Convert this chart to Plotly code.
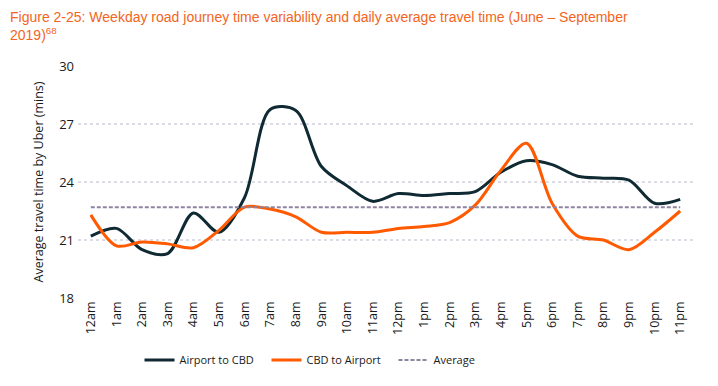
import plotly.graph_objects as go

hours = ["12am", "1am", "2am", "3am", "4am", "5am", "6am", "7am", "8am", "9am", "10am", "11am",
         "12pm", "1pm", "2pm", "3pm", "4pm", "5pm", "6pm", "7pm", "8pm", "9pm", "10pm", "11pm"]
airport_to_cbd = [21.2, 21.6, 20.5, 20.3, 22.4, 21.4, 23.2, 27.75, 27.7, 24.8, 23.8, 23.0,
                  23.4, 23.3, 23.4, 23.5, 24.5, 25.1, 24.9, 24.3, 24.2, 24.1, 22.9, 23.1]
cbd_to_airport = [22.3, 20.7, 20.9, 20.8, 20.6, 21.5, 22.7, 22.6, 22.2, 21.4, 21.4, 21.4,
                  21.6, 21.7, 21.9, 22.8, 24.6, 26.0, 22.9, 21.2, 21.0, 20.5, 21.4, 22.5]
average_value = 22.7
average = [average_value] * len(hours)
y_ticks = [18, 21, 24, 27, 30]

x = list(range(len(hours)))
font_family = "Open Sans, sans-serif"

fig = go.Figure()
fig.add_trace(go.Scatter(x=x, y=airport_to_cbd, name="Airport to CBD", mode="lines",
                         line=dict(color="#0f2a33", width=3, shape="spline", smoothing=0.9)))
fig.add_trace(go.Scatter(x=x, y=cbd_to_airport, name="CBD to Airport", mode="lines",
                         line=dict(color="#ff5a00", width=3, shape="spline", smoothing=0.9)))
fig.add_trace(go.Scatter(x=x, y=average, name="Average", mode="lines",
                         line=dict(color="#8e84a0", width=2, dash="4px,2px")))

fig.add_annotation(
    text="Figure 2-25: Weekday road journey time variability and daily average travel time (June – September<br>2019)<sup>68</sup>",
    xref="paper", yref="paper", x=-70 / 615, y=1 + 59 / 232, xanchor="left", yanchor="top",
    align="left", showarrow=False,
    font=dict(family="Liberation Sans, Arial, sans-serif", size=14, color="#f26522"),
)

fig.update_layout(
    width=718, height=386,
    margin=dict(l=70, r=33, t=58, b=96, autoexpand=False),
    paper_bgcolor="white", plot_bgcolor="white",
    font=dict(family=font_family, size=12, color="#1a1a1a"),
    xaxis=dict(
        tickmode="array", tickvals=x, ticktext=hours, tickangle=-90,
        range=[-0.5, 23.5], showgrid=False, zeroline=False, showline=False,
        tickfont=dict(size=12.5, color="#1a1a1a"), ticks="", automargin=False,
    ),
    yaxis=dict(
        title=dict(text="Average travel time by Uber (mins)", font=dict(size=12.5, color="#1a1a1a"), standoff=12),
        range=[18, 30], tickvals=y_ticks, showgrid=True, gridcolor="#dcdce4", griddash="dot",
        gridwidth=1.5, zeroline=False, showline=False, tickfont=dict(size=13, color="#1a1a1a"),
        automargin=False, ticklabelstandoff=3,
    ),
    legend=dict(orientation="h", x=0.1, xanchor="left", y=-0.267, yanchor="middle",
                font=dict(size=11, color="#1a1a1a"), itemwidth=30,
                entrywidth=82, entrywidthmode="pixels"),
    showlegend=True,
)

fig.write_html("out.html")
